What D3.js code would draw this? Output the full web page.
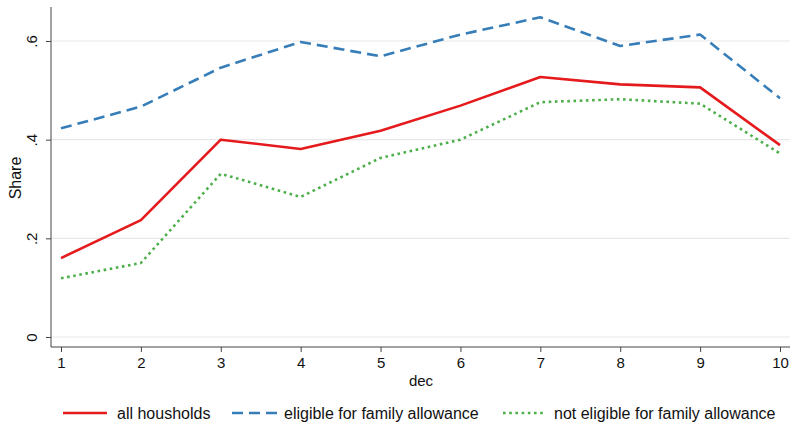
<!DOCTYPE html>
<html>
<head>
<meta charset="utf-8">
<script src="https://cdn.jsdelivr.net/npm/d3@7"></script>
<style>
  html, body { margin: 0; padding: 0; background: #fff; }
  svg text { font-family: "Liberation Sans", Arial, sans-serif; fill: #111; }
</style>
</head>
<body>
<svg id="chart" width="790" height="422"></svg>
<script>
// Deciles on the x axis
const deciles = [1, 2, 3, 4, 5, 6, 7, 8, 9, 10];

// Share per decile for each group
const allHouseholds = [0.160, 0.237, 0.400, 0.381, 0.418, 0.469, 0.527, 0.512, 0.506, 0.389];
const eligible      = [0.423, 0.467, 0.546, 0.598, 0.569, 0.613, 0.648, 0.590, 0.613, 0.484];
const notEligible   = [0.119, 0.150, 0.331, 0.284, 0.363, 0.400, 0.476, 0.482, 0.473, 0.372];

const yTicks = [0, 0.2, 0.4, 0.6];
const yTickLabels = ["0", ".2", ".4", ".6"];

const series = [
  { name: "all housholds", values: allHouseholds, color: "#e41a1c", dash: null },
  { name: "eligible for family allowance", values: eligible, color: "#377eb8", dash: "11,6" },
  { name: "not eligible for family allowance", values: notEligible, color: "#4daf4a", dash: "2.6,3.6" }
];

const svg = d3.select("#chart");
const plot = { left: 51, right: 790, top: 7, bottom: 347 };

const x = d3.scaleLinear().domain([1, 10]).range([61, 780]);
const y = d3.scaleLinear().domain([0, 0.6]).range([337, 41]);

// Horizontal grid lines
svg.append("g").selectAll("line").data(yTicks).join("line")
  .attr("x1", plot.left).attr("x2", plot.right)
  .attr("y1", d => y(d)).attr("y2", d => y(d))
  .attr("stroke", "#e8e8e8").attr("stroke-width", 1.2);

// Y axis with rotated tick labels
const yAxis = d3.axisLeft(y).tickValues(yTicks)
  .tickFormat((d, i) => yTickLabels[i]).tickSize(5);
const gy = svg.append("g").attr("transform", `translate(${plot.left},0)`).call(yAxis);
gy.select(".domain").attr("d", `M0,${plot.top}V${plot.bottom}`).attr("stroke", "#444");
gy.selectAll(".tick line").attr("stroke", "#444");
gy.selectAll(".tick text")
  .attr("font-size", 15)
  .attr("x", 0).attr("y", 0)
  .attr("dx", null).attr("dy", null)
  .attr("text-anchor", "middle")
  .attr("transform", "translate(-14,0) rotate(-90)");

// X axis
const xAxis = d3.axisBottom(x).tickValues(deciles).tickFormat(d3.format("d"))
  .tickSize(5).tickPadding(5);
const gx = svg.append("g").attr("transform", `translate(0,${plot.bottom})`).call(xAxis);
gx.select(".domain").attr("d", `M${plot.left},0H${plot.right}`).attr("stroke", "#444");
gx.selectAll(".tick line").attr("stroke", "#444");
gx.selectAll(".tick text").attr("font-size", 15);

// Axis titles
svg.append("text")
  .attr("transform", "translate(21,178) rotate(-90)")
  .attr("text-anchor", "middle").attr("font-size", 16)
  .text("Share");
svg.append("text")
  .attr("x", 421).attr("y", 386)
  .attr("text-anchor", "middle").attr("font-size", 15)
  .text("dec");

// Lines
const line = d3.line().x((d, i) => x(deciles[i])).y(d => y(d));
svg.append("g").selectAll("path").data(series).join("path")
  .attr("d", d => line(d.values))
  .attr("fill", "none")
  .attr("stroke", d => d.color)
  .attr("stroke-width", 2.6)
  .attr("stroke-linejoin", "round")
  .attr("stroke-dasharray", d => d.dash);

// Legend
const legendY = 413;
const legendItems = [
  { x0: 63, x1: 107, tx: 117 },
  { x0: 232, x1: 277, tx: 284 },
  { x0: 503, x1: 544, tx: 554 }
];
const lg = svg.append("g").selectAll("g").data(series).join("g");
lg.append("line")
  .attr("x1", (d, i) => legendItems[i].x0).attr("x2", (d, i) => legendItems[i].x1)
  .attr("y1", legendY).attr("y2", legendY)
  .attr("stroke", d => d.color).attr("stroke-width", 2.6)
  .attr("stroke-dasharray", d => d.dash);
lg.append("text")
  .attr("x", (d, i) => legendItems[i].tx).attr("y", legendY + 6)
  .attr("font-size", 16)
  .text(d => d.name);
</script>
</body>
</html>
